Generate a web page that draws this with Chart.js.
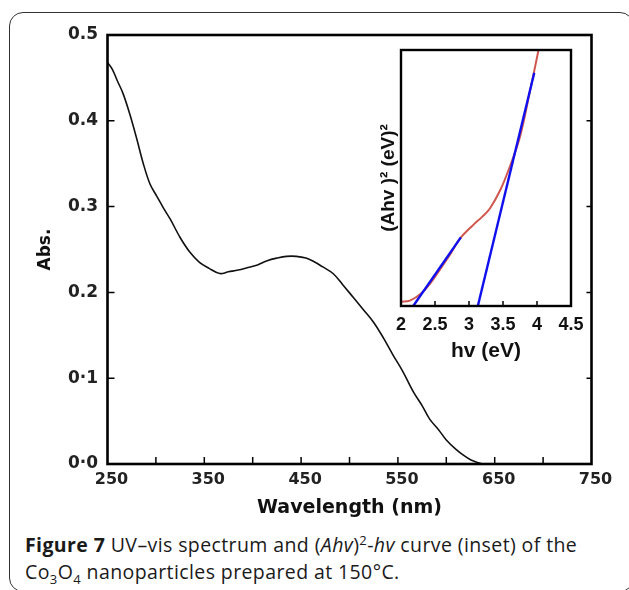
<!DOCTYPE html>
<html>
<head>
<meta charset="utf-8">
<script src="https://cdn.jsdelivr.net/npm/chart.js@4"></script>
<style>
	body { margin: 0; background: #fff; width: 629px; height: 590px; overflow: hidden; position: relative; }
	#frame { position: absolute; left: 9px; top: 12px; width: 625px; height: 580px; border: 1.5px solid #333; border-radius: 14px; box-sizing: border-box; }
	#mainChart { position: absolute; left: 0; top: 0; }
	#insetChart { position: absolute; left: 355px; top: 40px; }
	#caption { position: absolute; left: 25px; top: 531px; font-family: "Open Sans", sans-serif; font-size: 19.5px; letter-spacing: 0.4px; line-height: 27px; color: #1a1a1a; white-space: nowrap; }
	#caption sub, #caption sup { font-size: 13px; line-height: 0; }
</style>
</head>
<body>
<div id="frame"></div>
<canvas id="mainChart" width="629" height="530"></canvas>
<canvas id="insetChart" width="240" height="330"></canvas>
<div id="caption"><b>Figure 7</b> UV–vis spectrum and (<i>Ahv</i>)<sup>2</sup>-<i>hv</i> curve (inset) of the<br>Co<sub>3</sub>O<sub>4</sub> nanoparticles prepared at 150°C.</div>
<script>
// main spectrum
const wavelength = [250, 255, 260, 266, 273, 280, 287, 294, 301, 308, 315, 325, 335, 345, 355, 366, 375, 385, 395, 405, 415, 425, 435, 445, 455, 463, 472, 483, 493, 504, 515, 525, 535, 545, 555, 566, 575, 583, 592, 600, 610, 618, 625, 633, 637];
const absorbance = [0.468, 0.460, 0.447, 0.432, 0.408, 0.380, 0.350, 0.326, 0.312, 0.298, 0.285, 0.264, 0.247, 0.235, 0.228, 0.222, 0.224, 0.226, 0.229, 0.232, 0.237, 0.240, 0.242, 0.242, 0.240, 0.236, 0.230, 0.222, 0.209, 0.194, 0.179, 0.165, 0.147, 0.127, 0.108, 0.084, 0.068, 0.052, 0.040, 0.028, 0.017, 0.010, 0.005, 0.0015, 0];
const xTickLabels = {250: '250', 350: '350', 450: '450', 550: '550', 650: '650', 750: '750'};
const yTickLabels = ['0·0', '0·1', '0.2', '0.3', '0.4', '0.5'];

// inset (Ahv)^2 vs hv
const taucHv = [2.0, 2.13, 2.30, 2.45, 2.57, 2.72, 2.87, 3.06, 3.20, 3.31, 3.46, 3.60, 3.75, 3.90, 4.02, 4.04];
const taucAhv = [1.7, 2.1, 5.0, 9.5, 14.1, 20.0, 26.4, 31.6, 35.0, 38.2, 45.3, 54.4, 66.1, 84.4, 99.7, 103];
const fitLowHv = [2.18, 2.88];
const fitLowAhv = [0, 26.8];
const fitHighHv = [3.13, 3.96];
const fitHighAhv = [0, 91.1];
const insetTickLabels = ['2', '2.5', '3', '3.5', '4', '4.5'];

function toXY(xs, ys) {
	return xs.map((x, i) => ({x: x, y: ys[i]}));
}

// frame + inward tick marks
const framePlugin = {
	id: 'frame',
	afterDraw(chart, args, opts) {
		const ctx = chart.ctx;
		const a = chart.chartArea;
		ctx.save();
		ctx.strokeStyle = '#000';
		ctx.lineWidth = opts.tickWidth || 1.5;
		const xs = chart.scales.x, ys = chart.scales.y;
		xs.ticks.forEach((t, i) => {
			if (t.value <= xs.min || t.value >= xs.max) return;
			const px = xs.getPixelForValue(t.value);
			ctx.beginPath();
			ctx.moveTo(px, a.bottom);
			ctx.lineTo(px, a.bottom - opts.tick);
			ctx.stroke();
		});
		if (opts.yTicks) {
			ys.ticks.forEach((t) => {
				if (t.value <= ys.min || t.value >= ys.max) return;
				const py = ys.getPixelForValue(t.value);
				ctx.beginPath();
				ctx.moveTo(a.left, py);
				ctx.lineTo(a.left + opts.tick, py);
				ctx.moveTo(a.right, py);
				ctx.lineTo(a.right - opts.tick + 2, py);
				ctx.stroke();
			});
		}
		ctx.lineWidth = opts.width;
		ctx.strokeRect(a.left, a.top, a.right - a.left, a.bottom - a.top);
		ctx.restore();
	}
};

new Chart(document.getElementById('mainChart'), {
	type: 'line',
	data: {
		datasets: [{
			data: toXY(wavelength, absorbance),
			borderColor: '#111',
			borderWidth: 1.6,
			pointRadius: 0,
			tension: 0.35,
			fill: false
		}]
	},
	options: {
		responsive: false,
		animation: false,
		layout: { padding: { top: 35, right: 37.5, left: 0, bottom: 0 } },
		plugins: {
			legend: { display: false },
			tooltip: { enabled: false },
			frame: { width: 2.6, tick: 7, yTicks: true }
		},
		scales: {
			x: {
				type: 'linear',
				min: 250, max: 750,
				grid: { display: false, drawTicks: false },
				border: { display: false },
				afterFit(s) { s.height = 66; },
				ticks: {
					stepSize: 50, autoSkip: false, maxRotation: 0, padding: 6, labelOffset: 4,
					color: '#222',
					font: { family: 'DejaVu Sans', size: 16, weight: 'bold' },
					callback: (v) => xTickLabels[v] || ''
				},
				title: {
					display: true, text: 'Wavelength (nm)', color: '#111',
					font: { family: 'DejaVu Sans', size: 19, weight: 'bold' },
					padding: { top: 0, bottom: 10.6 }
				}
			},
			y: {
				min: 0, max: 0.5,
				grid: { display: false, drawTicks: false },
				border: { display: false },
				afterFit(s) { s.width = 107.5; },
				ticks: {
					stepSize: 0.1, padding: 9.5, color: '#222',
					font: { family: 'DejaVu Sans', size: 17, weight: 'bold' },
					callback: (v) => yTickLabels[Math.round(v * 10)]
				},
				title: {
					display: true, text: 'Abs.', color: '#111',
					font: { family: 'DejaVu Sans', size: 17, weight: 'bold' },
					padding: { top: 35, bottom: 0 }
				}
			}
		}
	},
	plugins: [framePlugin]
});

new Chart(document.getElementById('insetChart'), {
	type: 'line',
	data: {
		datasets: [
			{ data: toXY(fitLowHv, fitLowAhv), borderColor: '#1010ee', borderWidth: 2.4, pointRadius: 0, order: 0 },
			{ data: toXY(fitHighHv, fitHighAhv), borderColor: '#1010ee', borderWidth: 2.4, pointRadius: 0, order: 0 },
			{ data: toXY(taucHv, taucAhv), borderColor: '#d0574e', borderWidth: 2, pointRadius: 0, tension: 0.35, order: 1 }
		]
	},
	options: {
		responsive: false,
		animation: false,
		layout: { padding: { top: 10, right: 24, left: 0, bottom: 0 } },
		plugins: {
			legend: { display: false },
			tooltip: { enabled: false },
			frame: { width: 2.4, tick: 5, yTicks: false }
		},
		scales: {
			x: {
				type: 'linear',
				min: 2, max: 4.5,
				grid: { display: false, drawTicks: false },
				border: { display: false },
				afterFit(s) { s.height = 64; },
				ticks: {
					stepSize: 0.5, autoSkip: false, maxRotation: 0, padding: 8, color: '#111',
					font: { family: "'Liberation Sans Narrow', 'Liberation Sans', sans-serif", size: 18, weight: 'bold' },
					callback: (v) => insetTickLabels[Math.round((v - 2) * 2)]
				},
				title: {
					display: true, text: 'hv (eV)', color: '#111',
					font: { family: 'Liberation Sans', size: 21, weight: 'bold' },
					padding: { top: 0, bottom: 6 }
				}
			},
			y: {
				min: 0, max: 100,
				grid: { display: false, drawTicks: false },
				border: { display: false },
				afterFit(s) { s.width = 46; },
				ticks: { display: false },
				title: {
					display: true, text: '(Ahv )² (eV)²', color: '#111',
					font: { family: 'Liberation Sans', size: 19, weight: 'bold' },
					padding: { top: 22, bottom: 0 }
				}
			}
		}
	},
	plugins: [framePlugin]
});
</script>
</body>
</html>
